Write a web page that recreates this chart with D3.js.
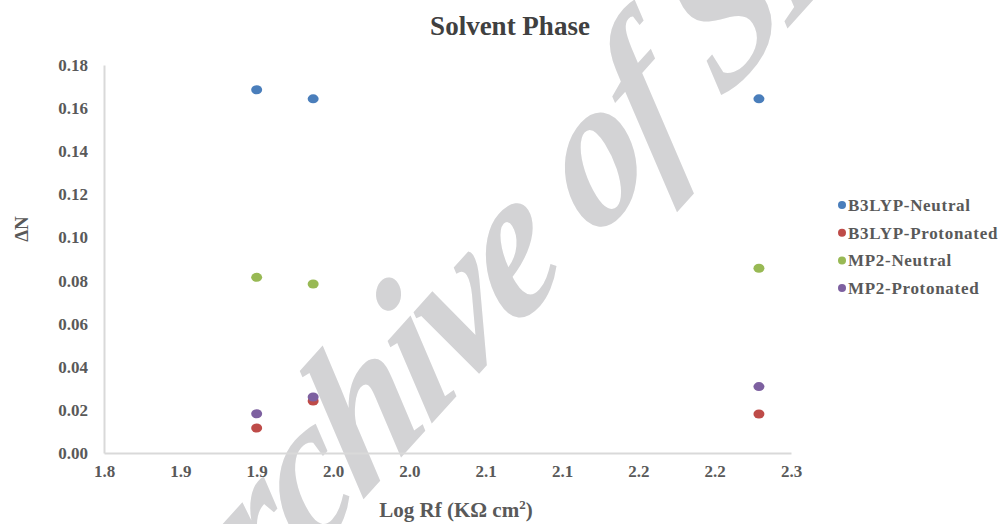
<!DOCTYPE html>
<html>
<head>
<meta charset="utf-8">
<script src="https://cdn.jsdelivr.net/npm/d3@7"></script>
<style>
  body { margin: 0; background: #fff; }
  text { font-family: "Liberation Serif", "Times New Roman", serif; font-weight: bold; fill: #595959; }
</style>
</head>
<body>
<svg id="chart" width="999" height="524"></svg>
<script>
const seriesNames = ["B3LYP-Neutral", "B3LYP-Protonated", "MP2-Neutral", "MP2-Protonated"];
const seriesColors = ["#4a7ebb", "#be4b48", "#98b954", "#7d60a0"];
const logRf = [1.900, 1.937, 2.229];
const b3lypNeutral = [0.1685, 0.1643, 0.1643];
const b3lypProtonated = [0.0116, 0.0241, 0.0181];
const mp2Neutral = [0.0815, 0.0784, 0.0857];
const mp2Protonated = [0.0182, 0.0260, 0.0308];
const xTickValues = [1.80, 1.85, 1.90, 1.95, 2.00, 2.05, 2.10, 2.15, 2.20, 2.25];
const xTickLabels = ["1.8", "1.9", "1.9", "2.0", "2.0", "2.1", "2.1", "2.2", "2.2", "2.3"];
const yTickValues = [0, 0.02, 0.04, 0.06, 0.08, 0.10, 0.12, 0.14, 0.16, 0.18];

const allSeries = [b3lypNeutral, b3lypProtonated, mp2Neutral, mp2Protonated];

const svg = d3.select("#chart");

const x = d3.scaleLinear().domain([1.80, 2.25]).range([104, 791]);
const y = d3.scaleLinear().domain([0, 0.18]).range([453, 65]);

// watermark (slanted by hand, italic face may be missing)
svg.append("text")
    .attr("transform", "translate(552,290) rotate(-48) skewX(-16)")
    .attr("text-anchor", "middle")
    .attr("font-size", 192)
    .style("font-style", "italic")
    .style("font-weight", "bold")
    .style("letter-spacing", "-6px")
    .style("fill", "#d3d3d5")
    .text("Archive of SID");

// axes (no tick marks, just light grey lines)
const yAxis = svg.append("g")
    .attr("transform", "translate(104,0)")
    .call(d3.axisLeft(y).tickValues(yTickValues).tickSize(0).tickPadding(16).tickFormat(d3.format(".2f")));
const xAxis = svg.append("g")
    .attr("transform", "translate(0,453)")
    .call(d3.axisBottom(x).tickValues(xTickValues).tickSize(0).tickPadding(12)
        .tickFormat((d, i) => xTickLabels[i]));

for (let g of [xAxis, yAxis]) {
    g.select(".domain").attr("stroke", "#d9d9d9").attr("stroke-width", 2);
    g.selectAll("text")
        .attr("font-family", "Liberation Serif")
        .attr("font-size", 17)
        .attr("font-weight", "bold")
        .attr("fill", "#595959");
}

// points
allSeries.forEach((vals, si) => {
    svg.append("g")
        .selectAll("ellipse")
        .data(vals)
        .join("ellipse")
        .attr("cx", (d, i) => x(logRf[i]))
        .attr("cy", d => y(d))
        .attr("rx", 5.5)
        .attr("ry", 4.5)
        .attr("fill", seriesColors[si]);
});

// title
svg.append("text")
    .attr("x", 510)
    .attr("y", 35)
    .attr("text-anchor", "middle")
    .attr("font-size", 27)
    .style("fill", "#404040")
    .text("Solvent Phase");

// axis titles
svg.append("text")
    .attr("transform", "translate(28,229) rotate(-90)")
    .attr("text-anchor", "middle")
    .attr("font-size", 19)
    .text("ΔN");

const xt = svg.append("text")
    .attr("x", 456)
    .attr("y", 517)
    .attr("text-anchor", "middle")
    .attr("font-size", 21);
xt.append("tspan").text("Log Rf (KΩ cm");
xt.append("tspan").attr("font-size", 13).attr("dy", -8).text("2");
xt.append("tspan").attr("dy", 8).text(")");

// legend
const legend = svg.append("g")
    .selectAll("g")
    .data(seriesNames)
    .join("g")
    .attr("transform", (d, i) => `translate(842,${205 + i * 27.7})`);
legend.append("circle")
    .attr("r", 4)
    .attr("fill", (d, i) => seriesColors[i]);
legend.append("text")
    .attr("x", 6)
    .attr("dy", "0.35em")
    .attr("font-size", 17)
    .style("letter-spacing", "0.7px")
    .text(d => d);
</script>
</body>
</html>
